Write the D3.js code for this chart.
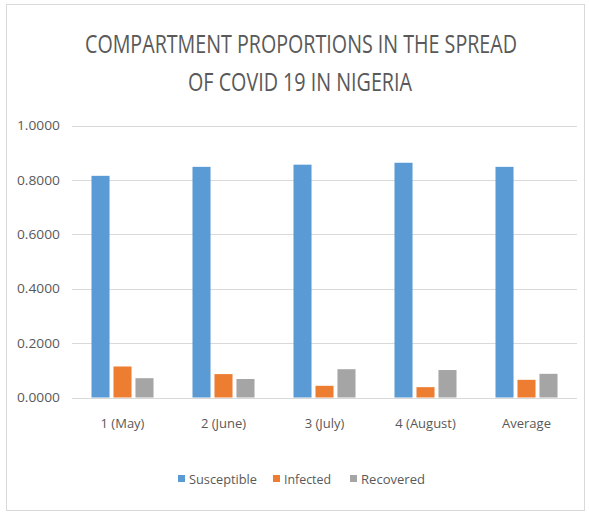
<!DOCTYPE html>
<html>
<head>
<meta charset="utf-8">
<script src="https://cdn.jsdelivr.net/npm/d3@7"></script>
<style>
  body { margin: 0; background: #fff; }
  text { font-family: "Open Sans", sans-serif; fill: #595959; }
</style>
</head>
<body>
<script>
const categories = ['1 (May)', '2 (June)', '3 (July)', '4 (August)', 'Average'];
const seriesNames = ['Susceptible', 'Infected', 'Recovered'];
const susceptible = [0.815, 0.848, 0.856, 0.863, 0.848];
const infected = [0.114, 0.086, 0.043, 0.038, 0.065];
const recovered = [0.071, 0.068, 0.104, 0.101, 0.087];
const yTicks = [0, 0.2, 0.4, 0.6, 0.8, 1.0];
const colors = ['#5B9BD5', '#ED7D31', '#A5A5A5'];

const width = 589;
const height = 514;
const margin = { top: 125, right: 12, bottom: 116, left: 72 };

const rows = categories.map((c, i) => ({
  category: c,
  values: [susceptible[i], infected[i], recovered[i]]
}));

const svg = d3.select('body').append('svg')
  .attr('width', width)
  .attr('height', height);

// chart frame
svg.append('rect')
  .attr('x', 6.5).attr('y', 4.5)
  .attr('width', 578).attr('height', 506)
  .attr('fill', '#fff')
  .attr('stroke', '#d9d9d9');

// title
const title = svg.append('text')
  .attr('text-anchor', 'middle')
  .style('font-size', '25px');
title.append('tspan').attr('x', 301).attr('y', 53)
  .attr('textLength', 432).attr('lengthAdjust', 'spacingAndGlyphs')
  .text('COMPARTMENT PROPORTIONS IN THE SPREAD');
title.append('tspan').attr('x', 300).attr('y', 91)
  .attr('textLength', 224).attr('lengthAdjust', 'spacingAndGlyphs')
  .text('OF COVID 19 IN NIGERIA');

const x0 = d3.scaleBand()
  .domain(categories)
  .range([margin.left, width - margin.right])
  .paddingInner(0.386)
  .paddingOuter(0.193);

const x1 = d3.scaleBand()
  .domain(seriesNames)
  .range([0, x0.bandwidth()])
  .paddingInner(0.18);

const y = d3.scaleLinear()
  .domain([0, 1])
  .range([397.5, 125.5]);

// gridlines
svg.append('g')
  .selectAll('line')
  .data(yTicks)
  .join('line')
  .attr('x1', margin.left)
  .attr('x2', width - margin.right)
  .attr('y1', d => Math.round(y(d)) + 0.5)
  .attr('y2', d => Math.round(y(d)) + 0.5)
  .attr('stroke', '#d9d9d9');

// y axis labels
const yAxis = svg.append('g')
  .attr('transform', `translate(${margin.left - 12},0)`)
  .call(d3.axisLeft(y).tickValues(yTicks).tickFormat(d3.format('.4f')).tickSize(0).tickPadding(0));
yAxis.select('.domain').remove();
yAxis.selectAll('text')
  .style('font-size', '13px')
  .style('font-family', '"Open Sans", sans-serif')
  .attr('fill', '#595959')
  .attr('textLength', 43).attr('lengthAdjust', 'spacingAndGlyphs');

// bars
svg.append('g')
  .selectAll('g')
  .data(rows)
  .join('g')
  .attr('transform', d => `translate(${x0(d.category)},0)`)
  .selectAll('rect')
  .data(d => d.values.map((v, i) => ({ key: seriesNames[i], value: v, i })))
  .join('rect')
  .attr('x', d => x1(d.key))
  .attr('width', x1.bandwidth())
  .attr('y', d => y(d.value))
  .attr('height', d => y(0) - y(d.value))
  .attr('fill', d => colors[d.i]);

// x axis labels
const xAxis = svg.append('g')
  .attr('transform', `translate(0,${y(0)})`)
  .call(d3.axisBottom(x0).tickSize(0).tickPadding(21));
xAxis.select('.domain').remove();
xAxis.selectAll('text')
  .style('font-size', '13px')
  .style('font-family', '"Open Sans", sans-serif')
  .attr('fill', '#595959');

// legend
const legendX = [178, 273, 350];
const legendW = [68, 47, 64];
const legend = svg.append('g')
  .selectAll('g')
  .data(seriesNames)
  .join('g')
  .attr('transform', (d, i) => `translate(${legendX[i]},479)`);
legend.append('rect')
  .attr('x', 0).attr('y', -4)
  .attr('width', 7).attr('height', 7)
  .attr('fill', (d, i) => colors[i]);
legend.append('text')
  .attr('x', 11)
  .attr('y', 4.5)
  .style('font-size', '13px')
  .attr('textLength', (d, i) => legendW[i])
  .attr('lengthAdjust', 'spacingAndGlyphs')
  .text(d => d);
</script>
</body>
</html>
